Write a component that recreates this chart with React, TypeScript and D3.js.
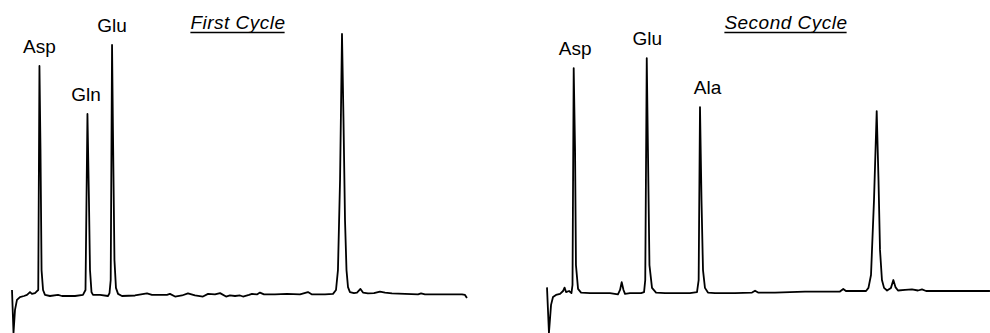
import { useEffect, useRef } from "react";
import * as d3 from "d3";

// Chromatogram traces: [retention time (min), detector signal]
const FIRST_CYCLE: [number, number][] = [
  [0, 2.3], [0.1, -14.1], [0.2, -5.3], [0.33, -1.5], [0.53, -0.4], [0.8, 0], [1.0, 0.4],
  [1.2, 1.5], [1.33, 0.8], [1.53, 1.1], [1.67, 1.9], [1.75, 2.3], [1.83, 87.8], [1.9, 55.7],
  [1.97, 9.9], [2.07, 2.3], [2.2, 0.4], [2.53, 0], [3.07, 0.4], [3.33, 0], [4.2, 0], [4.73, 0.4],
  [4.9, 2.3], [5.03, 69.5], [5.13, 36.6], [5.2, 9.9], [5.3, 1.5], [5.4, 0.4], [5.87, 0.4],
  [6.4, 0], [6.5, 1.1], [6.58, 6.1], [6.67, 95.8], [6.73, 63.4], [6.83, 13.7], [6.93, 3.1],
  [7.07, 0.8], [7.33, 0], [8.2, 0.2], [9.0, 1.0], [9.33, 0.4], [10.33, 0.4], [10.53, 0.8],
  [10.87, -0.2], [11.33, 0.2], [11.73, 1.0], [12.2, 0.2], [12.73, -0.2], [13.07, 0.8],
  [13.53, 0.6], [13.87, 1.1], [14.27, -0.2], [14.53, 0.2], [14.87, 0], [15.2, 0.2], [15.4, -0.2],
  [15.8, 0.4], [16.0, 0.8], [16.33, 0.6], [16.53, 1.3], [16.8, 0.6], [17.53, 0.6], [18.33, 0.8],
  [19.2, 0.6], [19.73, 1.5], [20.0, 0.6], [20.87, 0.6], [21.4, 0.8], [21.6, 2.3], [21.73, 9.9],
  [21.87, 44.3], [22.0, 100], [22.1, 67.2], [22.2, 29.0], [22.3, 9.9], [22.4, 3.4], [22.53, 1.5],
  [22.8, 1.1], [23.0, 1.3], [23.23, 2.7], [23.4, 1.3], [23.73, 1.0], [24.13, 1.1], [24.53, 1.7],
  [24.87, 1.3], [25.33, 1.0], [26.2, 0.8], [27.07, 0.6], [27.27, 1.0], [27.53, 0.6], [28.87, 0.6],
  [30.0, 0.6], [30.2, 0.4], [30.33, -0.8],
];

const SECOND_CYCLE: [number, number][] = [
  [0, 3.3], [0.13, -14.1], [0.27, -3.4], [0.4, -0.4], [0.6, 0.4], [0.87, 0.8], [1.07, 1.9],
  [1.17, 3.2], [1.27, 1.5], [1.47, 1.9], [1.63, 1.1], [1.7, 4.2], [1.78, 87.0], [1.87, 55.7],
  [1.93, 11.8], [2.07, 2.7], [2.27, 1.3], [2.87, 1.1], [4.2, 1.1], [4.73, 0.6], [4.87, 2.3],
  [4.98, 5.3], [5.1, 2.3], [5.2, 0.8], [5.53, 1.1], [6.27, 1.1], [6.47, 1.5], [6.55, 6.1],
  [6.65, 90.8], [6.73, 55.7], [6.83, 11.8], [7.0, 3.1], [7.27, 1.3], [7.87, 1.1], [9.53, 1.1],
  [10.0, 1.5], [10.11, 6.1], [10.2, 72.1], [10.3, 36.6], [10.4, 9.9], [10.53, 3.1], [10.73, 1.3],
  [11.2, 1.1], [12.53, 1.1], [13.67, 1.3], [13.87, 2.0], [14.07, 1.3], [15.2, 1.3], [16.2, 1.5],
  [17.2, 1.7], [19.53, 1.7], [19.75, 2.7], [19.93, 1.9], [20.53, 1.9], [21.27, 1.9], [21.43, 3.1],
  [21.6, 8.0], [21.8, 36.6], [21.98, 70.6], [22.1, 44.3], [22.2, 17.6], [22.33, 6.1], [22.47, 3.1],
  [22.67, 2.1], [22.93, 3.1], [23.09, 6.1], [23.23, 3.4], [23.4, 2.1], [23.87, 2.3], [24.33, 2.5],
  [24.73, 2.1], [25.0, 2.5], [25.27, 1.9], [26.53, 1.9], [29.53, 1.9],
];

const FIRST_PEAK_NAMES = ["Asp", "Gln", "Glu"];
const FIRST_PEAK_TIMES = [1.83, 5.03, 6.67];
const SECOND_PEAK_NAMES = ["Asp", "Glu", "Ala"];
const SECOND_PEAK_TIMES = [1.78, 6.65, 10.2];
const TITLES = ["First Cycle", "Second Cycle"];

const WIDTH = 990;
const HEIGHT = 333;
const FONT = "'Liberation Sans', Arial, sans-serif";

export default function App() {
  const svgRef = useRef<SVGSVGElement>(null);

  useEffect(() => {
    if (!svgRef.current) return;
    const svg = d3.select(svgRef.current);
    svg.selectAll("*").remove();

    const y = d3.scaleLinear().domain([0, 100]).range([296, 34]);

    const panels = [
      { trace: FIRST_CYCLE, names: FIRST_PEAK_NAMES, times: FIRST_PEAK_TIMES, title: TITLES[0], left: 12, titleX: 238, nudge: [0, -1.5, 0] },
      { trace: SECOND_CYCLE, names: SECOND_PEAK_NAMES, times: SECOND_PEAK_TIMES, title: TITLES[1], left: 547, titleX: 786, nudge: [1.5, 0.5, 7.5] },
    ];

    for (const p of panels) {
      const x = d3.scaleLinear().domain([0, 30]).range([p.left, p.left + 450]);
      const g = svg.append("g");

      const line = d3
        .line<[number, number]>()
        .x((d) => x(d[0]))
        .y((d) => y(d[1]));

      g.append("path")
        .datum(p.trace)
        .attr("fill", "none")
        .attr("stroke", "#000")
        .attr("stroke-width", 1.8)
        .attr("stroke-linejoin", "round")
        .attr("d", line);

      // peak labels sit just above each apex
      p.names.forEach((name, i) => {
        const t = p.times[i];
        const apex = d3.max(p.trace.filter((d) => Math.abs(d[0] - t) < 0.05), (d) => d[1]) ?? 0;
        g.append("text")
          .attr("x", x(t) + p.nudge[i])
          .attr("y", y(apex) - 13)
          .attr("text-anchor", "middle")
          .attr("font-family", FONT)
          .attr("font-size", 19)
          .attr("fill", "#000")
          .text(name);
      });

      const title = g
        .append("text")
        .attr("x", p.titleX)
        .attr("y", 29)
        .attr("text-anchor", "middle")
        .attr("font-family", FONT)
        .attr("font-size", 19)
        .attr("font-style", "italic")
        .attr("letter-spacing", 0.5)
        .attr("fill", "#000")
        .text(p.title);

      const bb = (title.node() as SVGTextElement).getBBox();
      g.append("line")
        .attr("x1", bb.x)
        .attr("x2", bb.x + bb.width - 1)
        .attr("y1", 32.5)
        .attr("y2", 32.5)
        .attr("stroke", "#000")
        .attr("stroke-width", 1.4);
    }
  }, []);

  return (
    <svg
      ref={svgRef}
      width={WIDTH}
      height={HEIGHT}
      style={{ position: "absolute", left: 0, top: 0, background: "#fff" }}
    />
  );
}
